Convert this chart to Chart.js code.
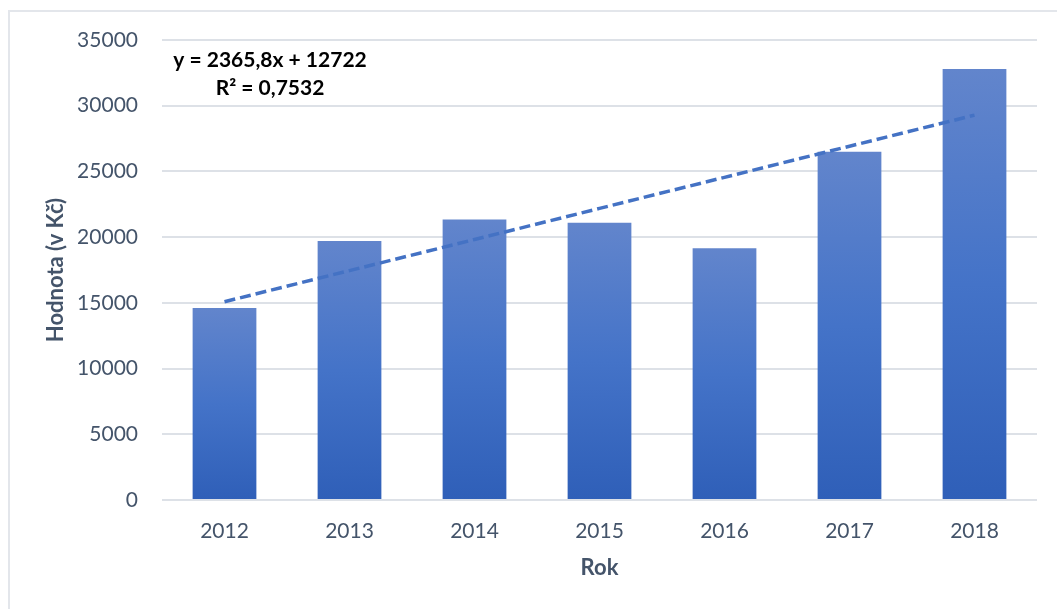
<!DOCTYPE html>
<html>
<head>
<meta charset="utf-8">
<script src="https://cdn.jsdelivr.net/npm/chart.js@4"></script>
<style>
    html, body { margin: 0; padding: 0; background: #fff; }
    #wrap { position: relative; width: 1057px; height: 609px; overflow: hidden; }
    #frame { position: absolute; left: 8px; top: 10px; width: 1100px; height: 700px; border-left: 2px solid #e3e6eb; border-top: 2px solid #e3e6eb; }
    canvas { position: absolute; left: 0; top: 0; }
</style>
</head>
<body>
<div id="wrap">
    <div id="frame"></div>
    <canvas id="valueChart" width="1057" height="609"></canvas>
</div>
<script>
const years = ['2012', '2013', '2014', '2015', '2016', '2017', '2018'];
const values = [14600, 19700, 21350, 21100, 19150, 26500, 32800];
// trendline values (y = 2365,8x + 12722)
const trendValues = [15088, 17454, 19819, 22185, 24551, 26917, 29282];
const yTicks = [0, 5000, 10000, 15000, 20000, 25000, 30000, 35000];
const equationLines = ['y = 2365,8x + 12722', 'R\u00b2 = 0,7532'];

const textColor = '#44546A';
const fontFamily = 'Lato, "Open Sans", sans-serif';

function barGradient(context) {
    const chart = context.chart;
    const { ctx, chartArea } = chart;
    if (!chartArea || context.type !== 'data') return '#4472C4';
    const yScale = chart.scales.y;
    const top = yScale.getPixelForValue(context.raw);
    const bottom = yScale.getPixelForValue(0);
    const g = ctx.createLinearGradient(0, top, 0, bottom);
    g.addColorStop(0, 'rgb(98,133,204)');
    g.addColorStop(0.5, 'rgb(68,115,200)');
    g.addColorStop(1, 'rgb(47,95,184)');
    return g;
}

const equationPlugin = {
    id: 'equation',
    afterDraw(chart) {
        const ctx = chart.ctx;
        ctx.save();
        ctx.font = 'bold 21px ' + fontFamily;
        ctx.fillStyle = '#000';
        ctx.textAlign = 'center';
        ctx.textBaseline = 'middle';
        ctx.fillText(equationLines[0], 270, 60);
        ctx.fillText(equationLines[1], 270, 88);
        ctx.restore();
    }
};

const ctx = document.getElementById('valueChart').getContext('2d');
const chart = new Chart(ctx, {
    data: {
        labels: years,
        datasets: [
            {
                type: 'line',
                data: trendValues,
                borderColor: '#4472C4',
                borderWidth: 3.5,
                borderDash: [11, 5],
                pointRadius: 0,
                fill: false,
                order: 0
            },
            {
                type: 'bar',
                data: values,
                backgroundColor: barGradient,
                barPercentage: 0.51,
                categoryPercentage: 1,
                order: 1
            }
        ]
    },
    options: {
        responsive: false,
        animation: false,
        layout: { padding: { left: 0, right: 20, top: 40, bottom: 0 } },
        plugins: {
            legend: { display: false },
            tooltip: { enabled: false }
        },
        scales: {
            x: {
                grid: { display: false },
                border: { display: false },
                ticks: {
                    color: textColor,
                    font: { family: fontFamily, size: 21 },
                    padding: 11,
                    maxRotation: 0
                },
                title: {
                    display: true,
                    text: 'Rok',
                    color: textColor,
                    font: { family: fontFamily, size: 22, weight: 'bold' },
                    padding: { top: 0, bottom: 28 }
                },
                afterFit(scale) { scale.height = 109; }
            },
            y: {
                min: 0,
                max: 35000,
                afterBuildTicks(scale) {
                    scale.ticks = yTicks.map(v => ({ value: v }));
                },
                grid: { color: '#dde1e7', lineWidth: 2, drawTicks: false },
                border: { display: false },
                ticks: {
                    color: textColor,
                    font: { family: fontFamily, size: 21 },
                    padding: 24,
                    callback: (value) => String(value)
                },
                title: {
                    display: true,
                    text: 'Hodnota (v Kč)',
                    color: textColor,
                    font: { family: fontFamily, size: 22, weight: 'bold' },
                    padding: { top: 43, bottom: 0 }
                },
                afterFit(scale) { scale.width = 162; }
            }
        }
    },
    plugins: [equationPlugin]
});
</script>
</body>
</html>
